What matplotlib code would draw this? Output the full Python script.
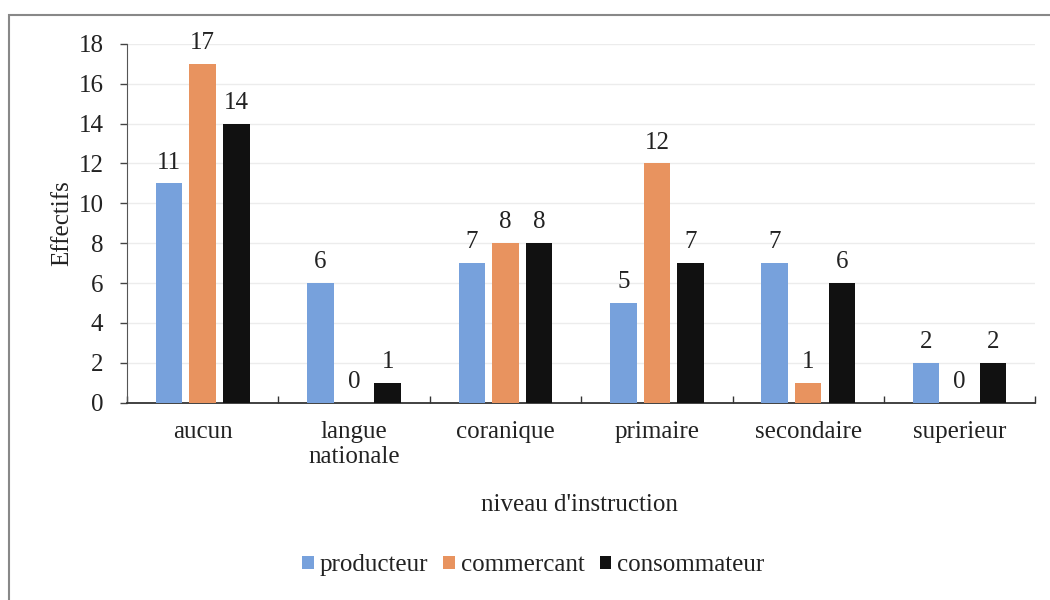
import matplotlib
matplotlib.use("Agg")
import matplotlib.pyplot as plt
import numpy as np
from matplotlib.patches import Rectangle

plt.rcParams['font.family'] = ['Liberation Serif', 'DejaVu Serif']

categories = ["aucun", "langue\nnationale", "coranique", "primaire", "secondaire", "superieur"]
series_names = ["producteur", "commercant", "consommateur"]
producteur = [11, 6, 7, 5, 7, 2]
commercant = [17, 0, 8, 12, 1, 0]
consommateur = [14, 1, 8, 7, 6, 2]
yticks = [0, 2, 4, 6, 8, 10, 12, 14, 16, 18]

colors = ["#77a1dc", "#e8935f", "#111111"]
fs = 18

fig = plt.figure(figsize=(10.5, 6), dpi=100)
ax = fig.add_axes([0.121, 0.329, 0.865, 0.598])

x = np.arange(len(categories))
width = 0.175
step = 0.222
for i, (vals, col, name) in enumerate(zip([producteur, commercant, consommateur], colors, series_names)):
    pos = x + (i - 1) * step
    bars = ax.bar(pos, vals, width=width, color=col, label=name, zorder=3)
    for b, v in zip(bars, vals):
        ax.annotate(str(v), (b.get_x() + b.get_width() / 2, v), xytext=(0, 7),
                    textcoords="offset points", ha="center", va="bottom",
                    fontsize=fs, color="#222222")

ax.set_xlim(-0.5, len(categories) - 0.5)
ax.set_ylim(0, 18)
ax.set_yticks(yticks)
ax.tick_params(axis="y", direction="out", length=5, width=1, colors="#444444",
               labelsize=fs, labelcolor="#222222", pad=12)
ax.set_xticks(x)
ax.set_xticklabels(categories)
ax.tick_params(axis="x", length=0, labelsize=fs, labelcolor="#222222", pad=13)
ax.set_xticks(np.arange(-0.5, len(categories)), minor=True)
ax.tick_params(axis="x", which="minor", direction="in", length=5, width=1, colors="#333333")

ax.yaxis.grid(True, color="#ececec", linewidth=1, zorder=0)
ax.set_axisbelow(True)
for s in ["top", "right"]:
    ax.spines[s].set_visible(False)
ax.spines["left"].set_color("#555555")
ax.spines["bottom"].set_color("#333333")
ax.spines["bottom"].set_linewidth(1.3)

ax.set_ylabel("Effectifs", fontsize=fs, color="#222222", labelpad=4)

fig.text(0.552, 0.158, "niveau d'instruction", ha="center", va="center",
         fontsize=fs, color="#222222")
fig.legend(loc="center", bbox_to_anchor=(0.508, 0.058), ncol=3, frameon=False,
           fontsize=fs, handlelength=0.45, handleheight=0.45, handletextpad=0.25,
           columnspacing=0.6, labelcolor="#222222")

# outer chart frame
fig.add_artist(Rectangle((0.009, -0.01), 1.1, 0.985, transform=fig.transFigure,
                         fill=False, edgecolor="#888888", linewidth=1.5))

fig.savefig("out.png", dpi=100)
